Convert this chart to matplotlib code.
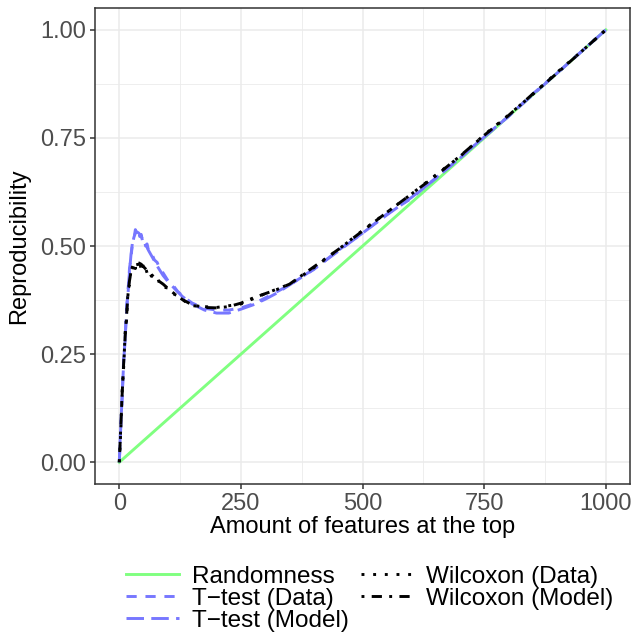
import matplotlib
matplotlib.use('Agg')
import matplotlib.pyplot as plt
from matplotlib.ticker import MultipleLocator

plt.rcParams['font.family'] = ['Liberation Sans', 'DejaVu Sans']

# smooth (model) curves
x_model = [0, 3, 6, 9, 12, 15, 18, 21, 24, 27, 30, 33, 36, 40, 45, 50, 55, 60, 70, 80, 90,
           100, 115, 130, 150, 175, 200, 225, 250, 275, 300, 325, 350, 400, 450, 500, 550,
           600, 650, 700, 750, 800, 850, 900, 950, 1000]
ttest_model = [0, 0.08, 0.16, 0.23, 0.29, 0.35, 0.40, 0.44, 0.48, 0.505, 0.52, 0.53, 0.533,
               0.53, 0.522, 0.512, 0.502, 0.49, 0.47, 0.45, 0.432, 0.418, 0.40, 0.383, 0.366,
               0.352, 0.345, 0.345, 0.354, 0.364, 0.377, 0.392, 0.41, 0.447, 0.488, 0.53,
               0.572, 0.612, 0.656, 0.704, 0.752, 0.80, 0.85, 0.90, 0.95, 1.0]
wilcox_model = [0, 0.08, 0.16, 0.23, 0.29, 0.34, 0.39, 0.42, 0.44, 0.452, 0.458, 0.461, 0.462,
                0.461, 0.458, 0.452, 0.446, 0.44, 0.43, 0.42, 0.412, 0.402, 0.388, 0.376, 0.364,
                0.358, 0.357, 0.36, 0.368, 0.38, 0.39, 0.40, 0.412, 0.452, 0.492, 0.535, 0.578,
                0.62, 0.662, 0.708, 0.756, 0.802, 0.852, 0.90, 0.95, 1.0]

# noisy (data) curves
x_data = [0, 3, 6, 9, 12, 15, 18, 21, 24, 27, 30, 33, 36, 39, 42, 45, 48, 51, 54, 57, 60, 66,
          72, 78, 84, 90, 100, 110, 120, 135, 150, 175, 200, 225, 250, 275, 300, 350, 400,
          450, 500, 550, 600, 650, 700, 750, 800, 850, 900, 950, 1000]
ttest_data = [0, 0.09, 0.15, 0.24, 0.28, 0.36, 0.39, 0.45, 0.47, 0.51, 0.515, 0.538, 0.528,
              0.536, 0.522, 0.527, 0.51, 0.515, 0.50, 0.505, 0.49, 0.485, 0.468, 0.462, 0.444,
              0.438, 0.42, 0.41, 0.395, 0.38, 0.368, 0.356, 0.352, 0.352, 0.357, 0.366, 0.38,
              0.41, 0.446, 0.49, 0.53, 0.574, 0.61, 0.657, 0.703, 0.753, 0.80, 0.852, 0.90,
              0.95, 1.0]
wilcox_data = [0, 0.07, 0.17, 0.22, 0.30, 0.33, 0.40, 0.41, 0.445, 0.44, 0.462, 0.448, 0.466,
               0.452, 0.463, 0.445, 0.458, 0.443, 0.45, 0.438, 0.445, 0.43, 0.432, 0.418, 0.42,
               0.405, 0.403, 0.39, 0.385, 0.372, 0.362, 0.36, 0.358, 0.362, 0.366, 0.378, 0.39,
               0.412, 0.45, 0.492, 0.536, 0.578, 0.62, 0.664, 0.707, 0.757, 0.803, 0.851,
               0.902, 0.95, 1.0]

x_random = [0, 1000]
random_vals = [0, 1.0]

green = '#80FF80'
blue = '#7777FF'

fig = plt.figure(figsize=(6.43, 6.35), dpi=100)
ax = fig.add_axes([0.1477, 0.238, 0.8323, 0.749])

lw = 2.1
ax.plot(x_random, random_vals, color=green, lw=lw, label='Randomness')
ax.plot(x_data, ttest_data, color=blue, lw=lw, linestyle=(0, (3.5, 3)), label='T\u2212test (Data)')
ax.plot(x_model, ttest_model, color=blue, lw=lw, linestyle=(0, (6, 2.5)), label='T\u2212test (Model)')
ax.plot(x_data, wilcox_data, color='black', lw=lw, linestyle=(0, (1, 3)), label='Wilcoxon (Data)')
ax.plot(x_model, wilcox_model, color='black', lw=lw, linestyle=(0, (1, 2.5, 3.5, 2.5)),
        label='Wilcoxon (Model)')

ax.set_xlim(-50, 1050)
ax.set_ylim(-0.05, 1.05)
ax.xaxis.set_minor_locator(MultipleLocator(125))
ax.yaxis.set_minor_locator(MultipleLocator(0.125))
ax.set_xticks([0, 250, 500, 750, 1000])
ax.set_xticklabels(['0', '250', '500', '750', '1000'])
ax.set_yticks([0, 0.25, 0.5, 0.75, 1.0])
ax.set_yticklabels(['0.00', '0.25', '0.50', '0.75', '1.00'])

ax.grid(which='major', color='#EBEBEB', lw=1.1)
ax.grid(which='minor', color='#EBEBEB', lw=0.6)
ax.set_axisbelow(True)
for s in ax.spines.values():
    s.set_color('#333333')
    s.set_linewidth(1.1)
ax.tick_params(which='major', length=3.5, width=1.1, color='#333333',
               labelsize=17, labelcolor='#4D4D4D', pad=3)
ax.tick_params(which='minor', length=0)

ax.set_xlabel('Amount of features at the top', fontsize=17, labelpad=1)
ax.set_ylabel('Reproducibility', fontsize=17, labelpad=7)

fig.legend(loc='lower center', bbox_to_anchor=(0.575, -0.01), ncol=2, frameon=False,
           fontsize=17.5, handlelength=2.2, handletextpad=0.5, columnspacing=0.5,
           labelspacing=0.0, borderaxespad=0.0)

fig.savefig('out.png', dpi=100)
